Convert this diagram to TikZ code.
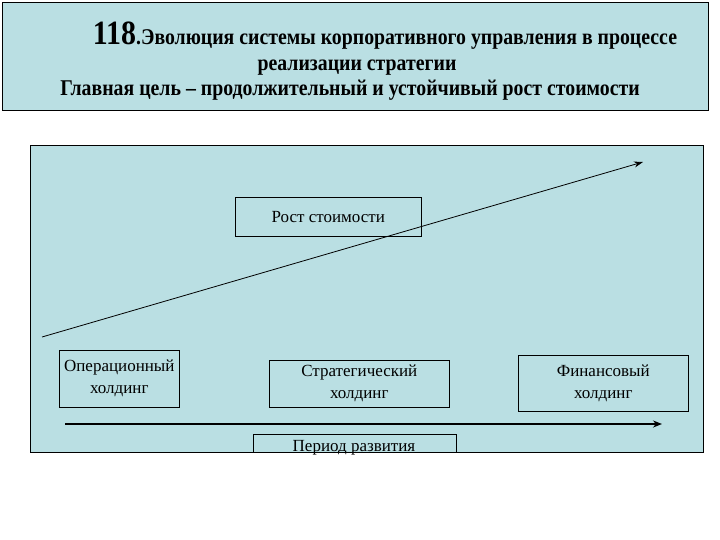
\documentclass[tikz,border=0pt]{standalone}
\usepackage{fontspec}
\setmainfont{Liberation Serif}
\newfontfamily\titlefont[FakeStretch=0.88]{Liberation Serif}
\usetikzlibrary{arrows.meta}
\definecolor{bgblue}{HTML}{BADFE3}
\begin{document}
\begin{tikzpicture}[x=1pt,y=-1pt,
  panel/.style={draw=black,fill=bgblue,line width=0.8pt},
  holding/.style={draw=black,line width=0.6pt,align=center,font=\fontsize{17}{22}\selectfont,inner sep=0pt},
  ttl/.style={font=\titlefont\bfseries\fontsize{22.5}{26}\selectfont,anchor=base}]
\useasboundingbox (0,0) rectangle (720,540);
\fill[white] (0,0) rectangle (720,540);
\node[panel,minimum width=706,minimum height=108,anchor=north west,inner sep=0pt] (title) at (2,2) {};
\node[ttl] (t1) at (385,45) {{\fontsize{34}{34}\selectfont 118}.Эволюция системы корпоративного управления в процессе};
\node[ttl] (t2) at (357,71) {реализации стратегии};
\node[ttl] (t3) at (350,96) {Главная цель – продолжительный и устойчивый рост стоимости};
\node[panel,minimum width=673,minimum height=307,anchor=north west,inner sep=0pt] (main) at (30,145) {};
\node[holding,minimum width=186,minimum height=39,anchor=north west] (rost) at (235,197) {Рост стоимости};
\node[holding,minimum width=120,minimum height=57,anchor=north west] (op) at (59,350) {Операционный\\холдинг};
\node[holding,minimum width=180,minimum height=47,anchor=north west] (str) at (269,360) {Стратегический\\холдинг};
\node[holding,minimum width=170,minimum height=56,anchor=north west] (fin) at (518,355) {Финансовый\\холдинг};
\coordinate (g0) at (42,337);
\coordinate (g1) at (643,162);
\draw[line width=0.8pt,-{Stealth[length=9pt,width=6pt]}] (g0) -- (g1);
\coordinate (p0) at (65,424);
\coordinate (p1) at (662,424);
\draw[line width=2.2pt,-{Stealth[length=9pt,width=7pt]}] (p0) -- (p1);
\begin{scope}
\clip (253,433) rectangle (457,452);
\node[holding,minimum width=203,minimum height=30,anchor=north west] (per) at (253,434) {};
\end{scope}
\node[font=\fontsize{17}{20}\selectfont,anchor=base] (pertext) at (354,451) {Период развития};
\end{tikzpicture}
\end{document}
